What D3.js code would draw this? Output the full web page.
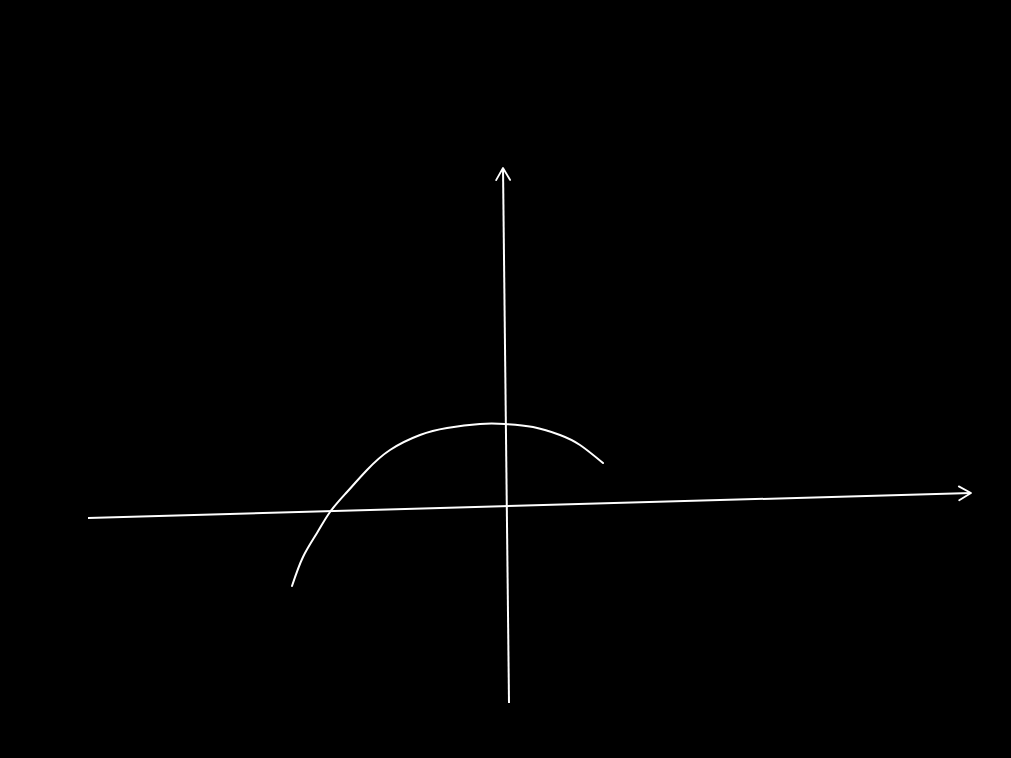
<!DOCTYPE html>
<html>
<head>
<meta charset="utf-8">
<script src="https://cdn.jsdelivr.net/npm/d3@7"></script>
<style>
  html, body { margin: 0; padding: 0; background: #000; overflow: hidden; }
  svg { display: block; }
</style>
</head>
<body>
<svg id="chart" width="1011" height="758"></svg>
<script>
// sketch values, in axis units (1 unit ~ 100px, origin where the axes cross)
const xAxisEnds = [[-4.18, -0.11], [4.65, 0.14]];
const yAxisEnds = [[0.03, -1.96], [-0.03, 3.39]];

// the hand-drawn arch
const curveX = [-2.14, -2.03, -1.89, -1.76, -1.59, -1.39, -1.16, -0.86, -0.59, -0.26, -0.01, 0.27, 0.54, 0.74, 0.97];
const curveY = [-0.79, -0.50, -0.26, -0.05, 0.15, 0.37, 0.57, 0.72, 0.79, 0.83, 0.83, 0.80, 0.72, 0.62, 0.44];

const width = 1011, height = 758;
const svg = d3.select('#chart');

svg.append('rect')
    .attr('width', width)
    .attr('height', height)
    .attr('fill', '#000');

const x = d3.scaleLinear().domain([-5, 5]).range([6, 1006]);
const y = d3.scaleLinear().domain([-2.5, 5]).range([757, 7]);

// open chevron arrowhead, like the pen strokes
svg.append('defs').append('marker')
    .attr('id', 'arrow')
    .attr('viewBox', '-14 -9 16 18')
    .attr('markerWidth', 16)
    .attr('markerHeight', 18)
    .attr('markerUnits', 'userSpaceOnUse')
    .attr('refX', 0)
    .attr('refY', 0)
    .attr('orient', 'auto')
  .append('path')
    .attr('d', 'M-12,-7 L0,0 L-12,7')
    .attr('fill', 'none')
    .attr('stroke', '#fff')
    .attr('stroke-width', 1.8)
    .attr('stroke-linecap', 'round')
    .attr('stroke-linejoin', 'round');

const line = d3.line()
    .x(d => x(d[0]))
    .y(d => y(d[1]));

const g = svg.append('g');

// axes
g.append('path')
    .datum(xAxisEnds)
    .attr('d', line)
    .attr('fill', 'none')
    .attr('stroke', '#fff')
    .attr('stroke-width', 2)
    .attr('marker-end', 'url(#arrow)');

g.append('path')
    .datum(yAxisEnds)
    .attr('d', line)
    .attr('fill', 'none')
    .attr('stroke', '#fff')
    .attr('stroke-width', 2)
    .attr('marker-end', 'url(#arrow)');

// curve
const curvePts = curveX.map((v, i) => [v, curveY[i]]);
g.append('path')
    .datum(curvePts)
    .attr('d', line.curve(d3.curveNatural))
    .attr('fill', 'none')
    .attr('stroke', '#fff')
    .attr('stroke-width', 2)
    .attr('stroke-linecap', 'round');
</script>
</body>
</html>
